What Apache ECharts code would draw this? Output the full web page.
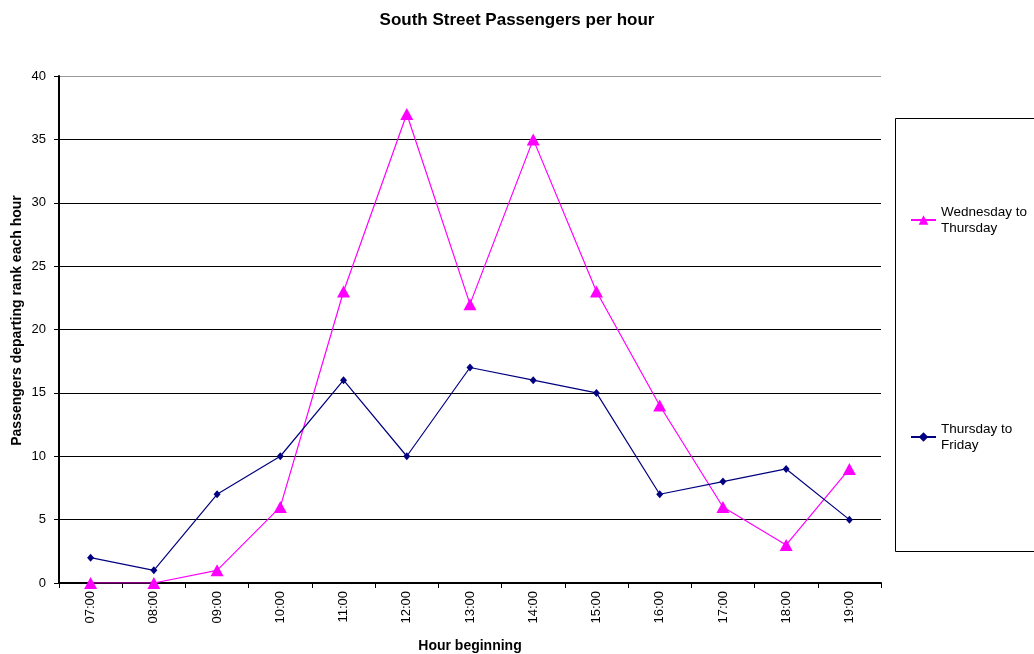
<!DOCTYPE html>
<html>
<head>
<meta charset="utf-8">
<script src="https://cdn.jsdelivr.net/npm/echarts@6/dist/echarts.min.js"></script>
<style>html,body{margin:0;padding:0;background:#fff;}#c{width:1034px;height:654px;}</style>
</head>
<body>
<div id="c"></div>
<script>
const hours = ['07:00','08:00','09:00','10:00','11:00','12:00','13:00','14:00','15:00','16:00','17:00','18:00','19:00'];
const wedToThu = [0,0,1,6,23,37,22,35,23,14,6,3,9];
const thuToFri = [2,1,7,10,16,10,17,16,15,7,8,9,5];
const seriesNames = ['Wednesday to Thursday','Thursday to Friday'];
const legendLabels = {'Wednesday to Thursday':'Wednesday to\nThursday','Thursday to Friday':'Thursday to\nFriday'};

const font = 'Liberation Sans, Arial, sans-serif';
const chart = echarts.init(document.getElementById('c'), null, {renderer:'canvas'});
const legendCommon = {
  orient:'vertical', left:910, padding:0, itemWidth:25, itemHeight:12, itemGap:5,
  formatter: n => legendLabels[n],
  textStyle:{fontFamily:font, fontSize:13.5, color:'#000', lineHeight:16, padding:[16,0,0,0]}
};
chart.setOption({
  animation:false,
  backgroundColor:'#fff',
  title:{text:'South Street Passengers per hour', left:'center', top:7,
    textStyle:{fontFamily:font, fontSize:17, fontWeight:'bold', color:'#000'}},
  graphic:[{type:'rect', shape:{x:895.5,y:118.5,width:145,height:433}, style:{fill:'#fff', stroke:'#000', lineWidth:1}, z:-1}],
  legend:[
    Object.assign({data:[seriesNames[0]], top:196}, legendCommon),
    Object.assign({data:[seriesNames[1]], top:413}, legendCommon)
  ],
  grid:{left:59, right:153, top:76, bottom:71, containLabel:false, outerBoundsMode:'none'},
  xAxis:{type:'category', data:hours, boundaryGap:true,
    name:'Hour beginning', nameLocation:'middle', nameGap:56, nameMoveOverlap:false,
    nameTextStyle:{fontFamily:font, fontSize:14, fontWeight:'bold', color:'#000'},
    axisLine:{lineStyle:{color:'#000', width:2}},
    axisTick:{show:true, alignWithLabel:false, length:5, lineStyle:{color:'#000'}},
    axisLabel:{rotate:90, margin:8, fontFamily:font, fontSize:13, color:'#000'}},
  yAxis:{type:'value', min:0, max:40, interval:5,
    name:'Passengers departing rank each hour', nameLocation:'middle', nameGap:35, nameMoveOverlap:false,
    nameTextStyle:{fontFamily:font, fontSize:14, fontWeight:'bold', color:'#000', padding:[0,0,0,18]},
    axisLine:{show:true, lineStyle:{color:'#000', width:2}},
    axisTick:{show:true, length:5, lineStyle:{color:'#000'}},
    axisLabel:{margin:13, fontFamily:font, fontSize:13, color:'#000'},
    splitLine:{show:true, lineStyle:{color:['#000','#000','#000','#000','#000','#000','#000','#000','#999'], width:1}}},
  series:[
    {name:seriesNames[0], type:'line', data:wedToThu, symbol:'triangle', symbolSize:[13,12],
      lineStyle:{color:'#ff00ff', width:1.2}, itemStyle:{color:'#ff00ff'}},
    {name:seriesNames[1], type:'line', data:thuToFri, symbol:'diamond', symbolSize:[7,8],
      lineStyle:{color:'#000080', width:1.2}, itemStyle:{color:'#000080'}}
  ]
});
</script>
</body>
</html>
